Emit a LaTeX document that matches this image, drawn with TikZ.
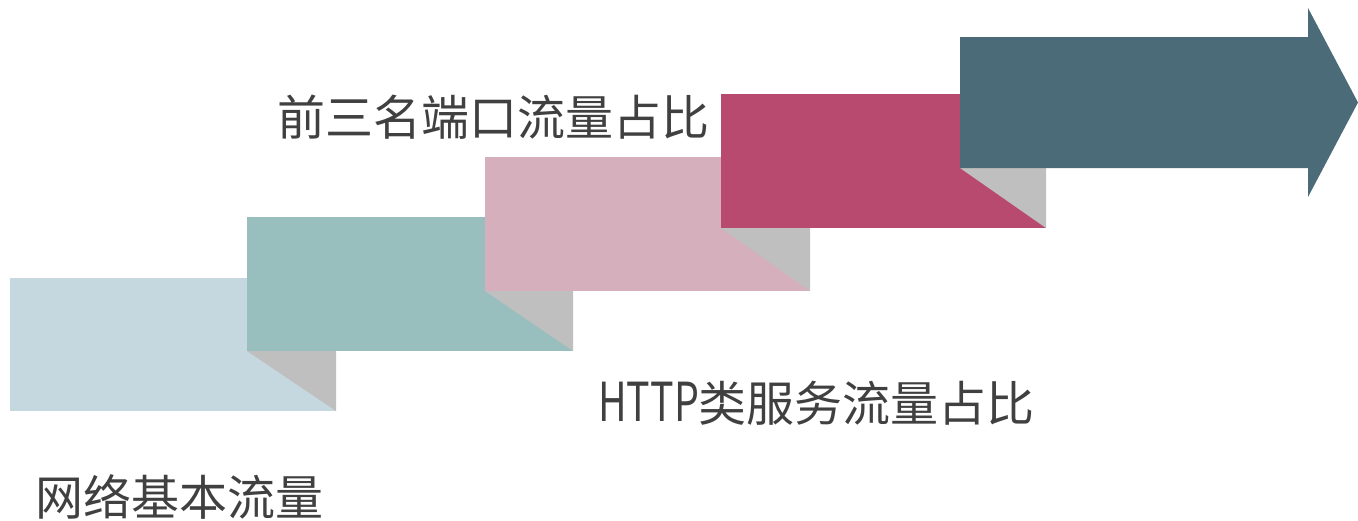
\documentclass[tikz,border=0pt]{standalone}
\usepackage{fontspec}
\setmainfont{Noto Sans CJK SC}
\begin{document}
\begin{tikzpicture}[x=1pt,y=-1pt,
  fold/.style={fill=foldgray},
  label text/.style={anchor=west, inner sep=0pt, text=txtgray, font=\fontsize{48}{52}\selectfont}]
\definecolor{cA}{HTML}{C5D7DF}
\definecolor{cB}{HTML}{99BEBE}
\definecolor{cC}{HTML}{D6AFBC}
\definecolor{cD}{HTML}{B84A6F}
\definecolor{cE}{HTML}{4A6B77}
\definecolor{foldgray}{HTML}{BFBFBF}
\definecolor{txtgray}{HTML}{404040}
\useasboundingbox (0,0) rectangle (1358,520);
% steps
\fill[cA] (10,278) rectangle (336,411);
\fill[fold] (247,351) -- (336,351) -- (336,411) -- cycle;
\fill[cB] (247,217) rectangle (573,351);
\fill[fold] (485,291) -- (573,291) -- (573,351) -- cycle;
\fill[cC] (485,157) rectangle (810,291);
\fill[fold] (721,228) -- (810,228) -- (810,291) -- cycle;
\fill[cD] (721,94) rectangle (1046,228);
\fill[fold] (960,168) -- (1046,168) -- (1046,228) -- cycle;
% arrow
\fill[cE] (960,37) -- (1308,37) -- (1308,8) -- (1358,102.5) -- (1308,197) -- (1308,168) -- (960,168) -- cycle;
% labels
\node[label text] (t1) at (277,117) {前三名端口流量占比};
\node[label text] (t2) at (598,403) {\scalebox{0.82}[1.12]{HTTP}类服务流量占比};
\node[label text] (t3) at (35,497) {网络基本流量};
\end{tikzpicture}
\end{document}
